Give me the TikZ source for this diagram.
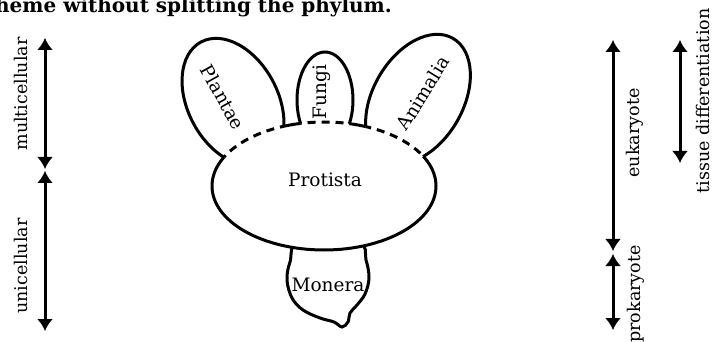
\documentclass[tikz,border=0pt]{standalone}
\usepackage{fontspec}
\setmainfont{DejaVu Serif}
\usetikzlibrary{arrows.meta}
\begin{document}
\begin{tikzpicture}[x=1pt,y=-1pt,
  outline/.style={line width=3pt},
  dashline/.style={line width=3pt, dash pattern=on 8pt off 6pt},
  scalearrow/.style={line width=3pt, {Latex[length=12pt,width=16pt]}-{Latex[length=12pt,width=16pt]}},
  inlab/.style={font=\fontsize{18.5}{18.5}\selectfont, inner sep=0pt},
  sidelab/.style={font=\fontsize{17.5}{17.5}\selectfont, inner sep=0pt, rotate=90},
  plantaeRot/.style={rotate around={118:(233,102)}},
  plantaeUnrot/.style={rotate around={-118:(233,102)}},
  animaliaRot/.style={rotate around={60:(418,99)}},
  animaliaUnrot/.style={rotate around={-60:(418,99)}},
]
\path[use as bounding box] (0,0) rectangle (713,342);
\clip (0,0) rectangle (713,342);

% header
\node[anchor=base west, font=\bfseries\fontsize{20}{20}\selectfont, inner sep=0pt] (title) at (-5,12.5) {heme without splitting the phylum.};

% Monera
\draw[outline] plot[smooth cycle, tension=0.6] coordinates {(300,240) (290,262) (287,280) (292,298) (303,310) (320,318) (334,322) (342,327) (348,322) (350,313) (357,305) (365,294) (369,278) (366,260) (358,242)};

% Protista body
\draw[outline, fill=white] (324,186) ellipse [x radius=112, y radius=64];

% white interiors of the kingdoms
\begin{scope}[plantaeRot]
  \fill[white] (233,102) ellipse [x radius=68pt, y radius=45pt];
\end{scope}
\begin{scope}[animaliaRot]
  \fill[white] (418,99) ellipse [x radius=70pt, y radius=45pt];
\end{scope}
\fill[white] (325,100) ellipse [x radius=28pt, y radius=48pt];

% dashed bases
\begin{scope}[plantaeRot]
  \clip (233,102) ellipse [x radius=68pt, y radius=45pt];
  \begin{scope}[plantaeUnrot]
    \draw[dashline] (324,186) ellipse [x radius=112, y radius=64];
  \end{scope}
\end{scope}
\begin{scope}[animaliaRot]
  \clip (418,99) ellipse [x radius=70pt, y radius=45pt];
  \begin{scope}[animaliaUnrot]
    \draw[dashline] (324,186) ellipse [x radius=112, y radius=64];
  \end{scope}
\end{scope}
\begin{scope}
  \clip (325,100) ellipse [x radius=28pt, y radius=48pt];
  \draw[dashline] (324,186) ellipse [x radius=112, y radius=64];
\end{scope}

% kingdom outlines above Protista
\begin{scope}
  \clip (0,0) -- (713,0) -- (713,186) -- (436,186) arc[start angle=0, end angle=-180, x radius=112, y radius=64] -- (0,186) -- cycle;
  \begin{scope}[plantaeRot]
    \draw[outline] (233,102) ellipse [x radius=68pt, y radius=45pt];
  \end{scope}
  \begin{scope}[animaliaRot]
    \draw[outline] (418,99) ellipse [x radius=70pt, y radius=45pt];
  \end{scope}
  \draw[outline] (325,100) ellipse [x radius=28pt, y radius=48pt];
\end{scope}

% inner labels
\node[inlab, rotate=-61] (plantae) at (223,97) {Plantae};
\node[inlab, rotate=90] (fungi) at (322,92) {Fungi};
\node[inlab, rotate=58] (animalia) at (423,93) {Animalia};
\node[inlab] (protista) at (325,180) {Protista};
\node[inlab] (monera) at (328,285) {Monera};

% left scale
\coordinate (mtop) at (45,38);
\coordinate (mbot) at (45,169);
\coordinate (utop) at (45,171);
\coordinate (ubot) at (45,331);
\draw[scalearrow] (mtop) -- (mbot);
\draw[scalearrow] (utop) -- (ubot);
\node[sidelab] (multi) at (21,94) {multicellular};
\node[sidelab] (uni) at (21,266) {unicellular};

% right scale
\coordinate (etop) at (613,40);
\coordinate (ebot) at (613,251);
\coordinate (ptop) at (613,254);
\coordinate (pbot) at (613,330);
\coordinate (ttop) at (680,40);
\coordinate (tbot) at (680,163);
\draw[scalearrow] (etop) -- (ebot);
\draw[scalearrow] (ptop) -- (pbot);
\draw[scalearrow] (ttop) -- (tbot);
\node[sidelab] (euk) at (635,133) {eukaryote};
\node[sidelab] (prok) at (636,294) {prokaryote};
\node[sidelab] (tissue) at (703,101) {tissue differentiation};
\end{tikzpicture}
\end{document}
